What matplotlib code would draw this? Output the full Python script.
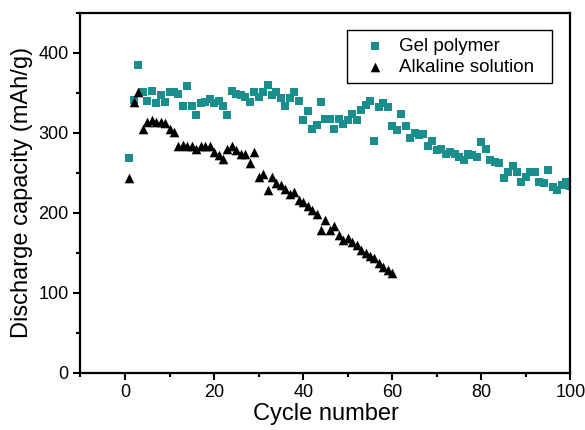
import matplotlib
matplotlib.use('Agg')
import matplotlib.pyplot as plt
from matplotlib.ticker import MultipleLocator

plt.rcParams['font.family'] = ['Liberation Sans', 'DejaVu Sans']

# Gel polymer electrolyte, cycles 1..100
gel_cycles = list(range(1, 101))
gel_capacity = [
    268, 341, 385, 351, 340, 352, 337, 347, 339, 351,
    351, 349, 333, 358, 333, 322, 337, 339, 342, 337,
    340, 333, 322, 352, 349, 347, 345, 339, 351, 345,
    351, 360, 347, 351, 343, 333, 343, 351, 340, 316,
    327, 305, 310, 339, 317, 317, 305, 317, 311, 316,
    323, 316, 328, 335, 340, 290, 332, 337, 332, 308,
    304, 323, 308, 293, 300, 297, 299, 283, 290, 278,
    280, 274, 276, 274, 270, 266, 274, 272, 270, 289,
    280, 266, 264, 262, 243, 251, 258, 251, 239, 245,
    251, 251, 239, 237, 253, 232, 228, 235, 239, 234,
]

# Alkaline solution, cycles 1..60
alk_cycles = list(range(1, 61))
alk_capacity = [
    243, 339, 351, 305, 314, 316, 314, 314, 312, 305,
    301, 283, 285, 283, 283, 280, 283, 283, 283, 276,
    272, 267, 280, 283, 278, 274, 274, 262, 276, 245,
    249, 228, 245, 237, 235, 230, 224, 226, 216, 214,
    208, 203, 199, 178, 191, 178, 183, 172, 166, 168,
    163, 160, 153, 149, 146, 143, 137, 132, 128, 124,
]

fig = plt.figure(figsize=(5.85, 4.3), dpi=100)
ax = fig.add_axes([0.1376, 0.1333, 0.8376, 0.8371])

ax.scatter(gel_cycles, gel_capacity, marker='s', s=26, c='#1a8d8d',
           linewidths=0, label='Gel polymer', zorder=2)
ax.scatter(alk_cycles, alk_capacity, marker='^', s=48, c='black',
           linewidths=0, label='Alkaline solution', zorder=3)

ax.set_xlim(-10, 100)
ax.set_ylim(0, 450)
ax.xaxis.set_major_locator(MultipleLocator(20))
ax.xaxis.set_minor_locator(MultipleLocator(10))
ax.yaxis.set_minor_locator(MultipleLocator(50))
ax.set_yticks([0, 100, 200, 300, 400])
ax.tick_params(which='major', direction='out', length=5, width=1.5, labelsize=13)
ax.tick_params(which='minor', direction='out', length=3, width=1.5)
for s in ax.spines.values():
    s.set_linewidth(1.6)

ax.set_xlabel('Cycle number', fontsize=17, labelpad=1)
ax.set_ylabel('Discharge capacity (mAh/g)', fontsize=17, labelpad=4)

leg = ax.legend(loc='upper left', bbox_to_anchor=(0.544, 0.815, 0.418, 0.137),
                mode='expand', borderaxespad=0,
                scatterpoints=1, fontsize=13.5, fancybox=False, framealpha=1,
                edgecolor='black', handlelength=2.2, handletextpad=0.15,
                borderpad=0.4, labelspacing=0.2)
leg.get_frame().set_linewidth(1.0)

fig.savefig('out.png', dpi=100)
